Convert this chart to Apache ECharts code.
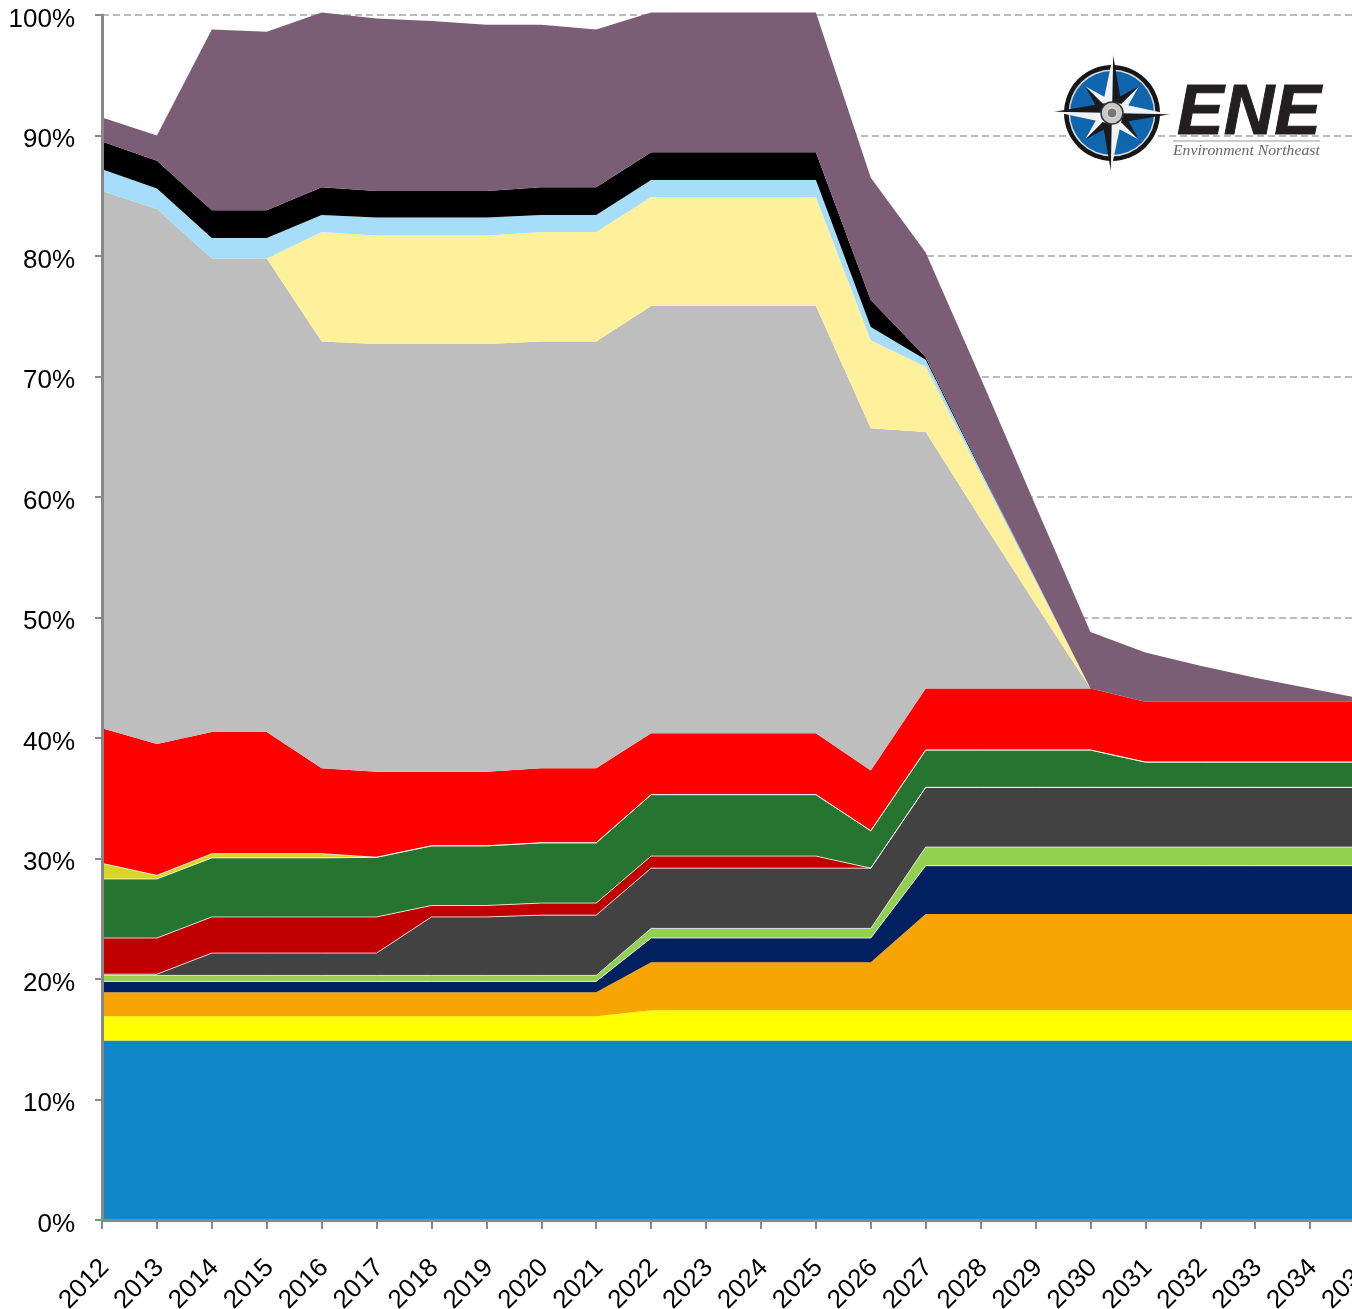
<!DOCTYPE html>
<html><head><meta charset="utf-8">
<style>html,body{margin:0;padding:0;background:#fff;overflow:hidden}#c{width:1352px;height:1309px}</style>
<script src="https://cdn.jsdelivr.net/npm/echarts@6/dist/echarts.min.js"></script>
</head><body><div id="c"></div>
<script>
const years = ['2012','2013','2014','2015','2016','2017','2018','2019','2020','2021','2022','2023','2024','2025','2026','2027','2028','2029','2030','2031','2032','2033','2034','2035'];
// Upper boundary of each stacked band (percent)
const topBlue      = [14.9,14.9,14.9,14.9,14.9,14.9,14.9,14.9,14.9,14.9,14.9,14.9,14.9,14.9,14.9,14.9,14.9,14.9,14.9,14.9,14.9,14.9,14.9,14.9];
const topYellow    = [16.9,16.9,16.9,16.9,16.9,16.9,16.9,16.9,16.9,16.9,17.4,17.4,17.4,17.4,17.4,17.4,17.4,17.4,17.4,17.4,17.4,17.4,17.4,17.4];
const topOrange    = [18.9,18.9,18.9,18.9,18.9,18.9,18.9,18.9,18.9,18.9,21.4,21.4,21.4,21.4,21.4,25.4,25.4,25.4,25.4,25.4,25.4,25.4,25.4,25.4];
const topNavy      = [19.8,19.8,19.8,19.8,19.8,19.8,19.8,19.8,19.8,19.8,23.4,23.4,23.4,23.4,23.4,29.4,29.4,29.4,29.4,29.4,29.4,29.4,29.4,29.4];
const topLime      = [20.3,20.3,20.3,20.3,20.3,20.3,20.3,20.3,20.3,20.3,24.2,24.2,24.2,24.2,24.2,30.95,30.95,30.95,30.95,30.95,30.95,30.95,30.95,30.95];
const topCharcoal  = [20.4,20.4,22.15,22.15,22.15,22.15,25.15,25.15,25.3,25.3,29.2,29.2,29.2,29.2,29.2,35.9,35.9,35.9,35.9,35.9,35.9,35.9,35.9,35.9];
const topDarkRed   = [23.4,23.4,25.15,25.15,25.15,25.15,26.1,26.1,26.3,26.3,30.2,30.2,30.2,30.2,29.2,35.9,35.9,35.9,35.9,35.9,35.9,35.9,35.9,35.9];
const topGreen     = [28.3,28.3,30.05,30.05,30.05,30.1,31.05,31.05,31.3,31.3,35.3,35.3,35.3,35.3,32.3,39,39,39,39,38,38,38,38,38];
const topOlive     = [29.6,28.6,30.4,30.4,30.4,30.1,31.05,31.05,31.3,31.3,35.3,35.3,35.3,35.3,32.3,39,39,39,39,38,38,38,38,38];
const topRed       = [40.8,39.5,40.5,40.5,37.5,37.2,37.2,37.2,37.5,37.5,40.4,40.4,40.4,40.4,37.3,44.1,44.1,44.1,44.1,43,43,43,43,43];
const topGray      = [85.4,83.9,79.8,79.8,72.9,72.7,72.7,72.7,72.9,72.9,75.85,75.85,75.85,75.85,65.7,65.4,58.2,51.1,44.1,43,43,43,43,43];
const topPaleYellow= [85.4,83.9,79.8,79.8,82,81.7,81.7,81.7,82,82,84.9,84.9,84.9,84.9,73,70.8,61.9,53,44.1,43,43,43,43,43];
const topSky       = [87.2,85.6,81.5,81.5,83.4,83.2,83.2,83.2,83.4,83.4,86.3,86.3,86.3,86.3,74.1,71.4,62.2,53.2,44.1,43,43,43,43,43];
const topBlack     = [89.5,87.9,83.8,83.8,85.7,85.4,85.4,85.4,85.7,85.7,88.6,88.6,88.6,88.6,76.35,71.6,62.3,53.2,44.1,43,43,43,43,43];
const topPurple    = [91.5,90,98.8,98.6,100.2,99.7,99.5,99.2,99.2,98.8,100.2,100.2,100.2,100.2,86.5,80.3,69.9,59.3,48.8,47.1,46,45,44.1,43.2];
const yTicks = ['0%','10%','20%','30%','40%','50%','60%','70%','80%','90%','100%'];

const bands = [
  [topBlue,'#1087C6',0],[topYellow,'#FFFF00',0],[topOrange,'#F8A504',0],[topNavy,'#00205F',1],
  [topLime,'#92D050',1],[topCharcoal,'#424242',1],[topDarkRed,'#C00000',1],[topGreen,'#257530',1],
  [topOlive,'#D6D624',1],[topRed,'#FF0000',0],[topGray,'#BEBEBE',0],[topPaleYellow,'#FFF19C',0],
  [topSky,'#A6DDFA',0],[topBlack,'#000000',0],[topPurple,'#7B5D76',0]
];
const series = bands.map(([tops,color,edge],i)=>({
  type:'line',stack:'all',symbol:'none',clip:false,silent:true,
  data:tops.map((v,k)=>+(v-(i?bands[i-1][0][k]:0)).toFixed(3)),
  areaStyle:{color:color,opacity:1},
  lineStyle:edge?{color:'rgba(255,255,255,0.75)',width:1}:{width:0,opacity:0}
}));

// Logo
const cx=1112, cy=113;
function pt(r,a){return [cx+r*Math.cos(a),cy+r*Math.sin(a)];}
const logo=[
  {type:'circle',shape:{cx,cy,r:48},style:{fill:'#161616'}},
  {type:'circle',shape:{cx,cy,r:43.5},style:{fill:'#d8d8d8'}},
  {type:'circle',shape:{cx,cy,r:42},style:{fill:'#0F65AE'}}
];
function blade(r,w,angle,c1,c2){
  const tip=pt(r,angle),a=pt(w,angle+Math.PI/2),b=pt(w,angle-Math.PI/2),o=[cx,cy];
  logo.push({type:'polygon',shape:{points:[o,tip,a]},style:{fill:c1}});
  logo.push({type:'polygon',shape:{points:[o,tip,b]},style:{fill:c2}});
}
for(let k=0;k<4;k++) blade(38,11,Math.PI/4+k*Math.PI/2,'#f2f2f2','#1a1a1a');
for(let k=0;k<4;k++) blade(58,11,-Math.PI/2+k*Math.PI/2+0.02,'#1a1a1a','#f2f2f2');
logo.push({type:'circle',shape:{cx,cy,r:11},style:{fill:'#c9c9c9',stroke:'#333',lineWidth:1.5}});
logo.push({type:'circle',shape:{cx,cy,r:5},style:{fill:'#777',stroke:'#eee',lineWidth:1}});
logo.push({type:'text',x:1177,y:115,style:{text:'ENE',fill:'#231F20',font:'italic bold 70px "Liberation Sans"',stroke:'#231F20',lineWidth:1,textAlign:'left',textVerticalAlign:'middle'}});
logo.push({type:'rect',shape:{x:1173,y:140.5,width:147,height:1},style:{fill:'#999'}});
logo.push({type:'text',x:1173,y:151,scaleX:1.05,style:{text:'Environment Northeast',fill:'#666',font:'italic 15px "Liberation Serif"',textAlign:'left',textVerticalAlign:'middle'}});

const labelFont={color:'#000',fontFamily:'"Liberation Sans"',fontSize:26};
const chart=echarts.init(document.getElementById('c'),null,{renderer:'canvas'});
chart.setOption({
  animation:false,
  backgroundColor:'#ffffff',
  grid:{left:102,top:15,width:1263,height:1205,containLabel:false,outerBoundsMode:'none'},
  xAxis:{type:'category',boundaryGap:false,data:years,z:10,
    axisLine:{onZero:false,lineStyle:{color:'#888888',width:3}},
    axisTick:{show:true,alignWithLabel:true,length:9,lineStyle:{color:'#888888',width:2}},
    splitLine:{show:false},
    axisLabel:{interval:0,rotate:45,margin:41,showMaxLabel:true,hideOverlap:false,
      formatter:(v)=>'{t|'+v+'}',
      rich:{t:Object.assign({padding:[8,0,0,0]},labelFont)}}},
  yAxis:[
    {type:'value',min:0,max:100,interval:10,position:'left',
     axisLine:{show:false},axisTick:{show:false},axisLabel:{show:false},
     splitLine:{show:true,lineStyle:{color:'#BBBBBB',width:2,type:[7,4]}}},
    {type:'value',min:0,max:100,interval:10,position:'left',z:10,
     axisLine:{show:true,lineStyle:{color:'#888888',width:3}},
     axisTick:{show:true,length:7,lineStyle:{color:'#888888',width:2}},
     splitLine:{show:false},
     axisLabel:{margin:27,formatter:(v)=>'{t|'+yTicks[Math.round(v/10)]+'}',
       rich:{t:Object.assign({padding:[9,0,0,0]},labelFont)}}}
  ],
  series:series,
  graphic:{elements:logo.map(e=>Object.assign({z:100,silent:true},e))}
});
</script></body></html>
